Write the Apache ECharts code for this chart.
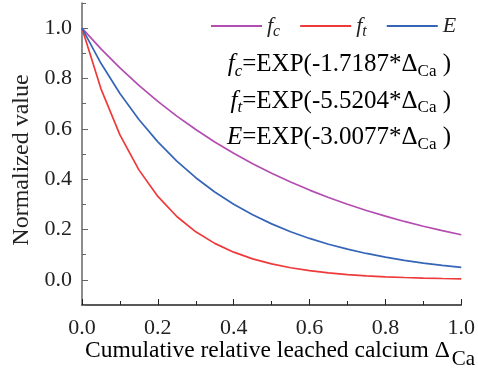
<!DOCTYPE html>
<html>
<head>
<meta charset="utf-8">
<script src="https://cdn.jsdelivr.net/npm/echarts@6/dist/echarts.min.js"></script>
<style>
  html, body { margin: 0; padding: 0; background: #fff; }
  #chart { width: 478px; height: 372px; }
</style>
</head>
<body>
<div id="chart"></div>
<script>
// Relative leached calcium (x) and the normalized mechanical properties
var leached = [0, 0.05, 0.1, 0.15, 0.2, 0.25, 0.3, 0.35, 0.4, 0.45, 0.5,
               0.55, 0.6, 0.65, 0.7, 0.75, 0.8, 0.85, 0.9, 0.95, 1.0];
// compressive strength f_c
var fcValues = [1, 0.9177, 0.8421, 0.7727, 0.7091, 0.6507, 0.5971, 0.5480, 0.5028, 0.4614, 0.4234,
                0.3886, 0.3566, 0.3272, 0.3003, 0.2755, 0.2529, 0.2320, 0.2129, 0.1954, 0.1793];
// tensile strength f_t
var ftValues = [1, 0.7588, 0.5758, 0.4369, 0.3315, 0.2516, 0.1909, 0.1448, 0.1099, 0.0834, 0.0633,
                0.0480, 0.0364, 0.0276, 0.0210, 0.0159, 0.0121, 0.0092, 0.0070, 0.0053, 0.0040];
// elastic modulus E
var eValues = [1, 0.8604, 0.7402, 0.6369, 0.5480, 0.4715, 0.4057, 0.3490, 0.3003, 0.2584, 0.2223,
               0.1912, 0.1645, 0.1416, 0.1218, 0.1048, 0.0902, 0.0776, 0.0667, 0.0574, 0.0494];

var seriesNames = ['fc', 'ft', 'E'];
var seriesColors = ['#b44db2', '#ee3a3a', '#3565b6'];
var equations = [
  '{i|f}{si|c}{n|=EXP(-1.7187*Δ}{s|Ca}{n| )}',
  '{i|f}{si|t}{n|=EXP(-5.5204*Δ}{s|Ca}{n| )}',
  '{i|E}{n|=EXP(-3.0077*Δ}{s|Ca}{n| )}'
];
var xTickLabels = ['0.0', '0.2', '0.4', '0.6', '0.8', '1.0'];
var yTickLabels = ['0.0', '0.2', '0.4', '0.6', '0.8', '1.0'];

var SERIF = 'Liberation Serif';
var INK = '#222';

function pairs(vals) {
  return leached.map(function (x, i) { return [x, vals[i]]; });
}

// rich styles for the fitted equations
var eqRich = {
  i: { fontFamily: SERIF, fontStyle: 'italic', fontSize: 25, color: INK, lineHeight: 30 },
  n: { fontFamily: SERIF, fontSize: 25, color: INK, lineHeight: 30 },
  s: { fontFamily: SERIF, fontSize: 17, color: INK, lineHeight: 16, padding: [14, 0, 0, 0] },
  si: { fontFamily: SERIF, fontStyle: 'italic', fontSize: 17, color: INK, lineHeight: 16, padding: [14, 0, 0, 0] }
};
// rich styles for the legend labels
var legendRich = {
  i: { fontFamily: SERIF, fontStyle: 'italic', fontSize: 22, color: INK, lineHeight: 26 },
  si: { fontFamily: SERIF, fontStyle: 'italic', fontSize: 16, color: INK, lineHeight: 14, padding: [12, 0, 0, 0] }
};

// plot area and y range (-0.1 .. 1.1)
var H = 372, G_TOP = 3, G_BOTTOM = 67, Y_MIN = -0.1, Y_MAX = 1.1;
var pxPerUnit = (H - G_TOP - G_BOTTOM) / (Y_MAX - Y_MIN);
// labelled sub-range 0.0 .. 1.0 placed over the same pixels
var labTop = G_TOP + (Y_MAX - 1.0) * pxPerUnit;
var labBottom = G_BOTTOM + (0.0 - Y_MIN) * pxPerUnit;

var chart = echarts.init(document.getElementById('chart'), null, { renderer: 'canvas' });

var option = {
  animation: false,
  backgroundColor: '#fff',
  grid: [
    { left: 82, right: 16, top: G_TOP, bottom: G_BOTTOM },
    { left: 82, right: 16, top: labTop, bottom: labBottom }
  ],
  legend: {
    left: 206,
    top: 7,
    itemWidth: 51,
    itemHeight: 2,
    itemGap: 20,
    icon: 'rect',
    data: seriesNames,
    formatter: function (name) {
      if (name === 'fc') return '{i|f}{si|c}';
      if (name === 'ft') return '{i|f}{si|t}';
      return '{i|E}';
    },
    textStyle: { rich: legendRich }
  },
  xAxis: [
    {
      type: 'value', gridIndex: 0,
      min: 0, max: 1.0, interval: 0.2,
      axisLine: { onZero: false, lineStyle: { color: INK, width: 1.5 } },
      axisTick: { inside: true, length: 6, lineStyle: { color: INK } },
      minorTick: { show: true, splitNumber: 2, length: 4, lineStyle: { color: INK } },
      splitLine: { show: false },
      axisLabel: {
        fontFamily: SERIF, fontSize: 22, color: INK, margin: 12,
        formatter: function (v) { return xTickLabels[Math.round(v / 0.2)]; }
      }
    },
    { type: 'value', gridIndex: 1, min: 0, max: 1, show: false }
  ],
  yAxis: [
    {
      type: 'value', gridIndex: 0, min: Y_MIN, max: Y_MAX, interval: 0.1,
      axisLine: { show: true, onZero: false, lineStyle: { color: '#666', width: 1.5 } },
      axisTick: { inside: true, length: 4, lineStyle: { color: '#666' } },
      axisLabel: { show: false }, splitLine: { show: false }
    },
    {
      type: 'value', gridIndex: 1, min: 0, max: 1.0, interval: 0.2,
      axisLine: { show: false },
      axisTick: { inside: true, length: 6, lineStyle: { color: '#666' } },
      splitLine: { show: false },
      axisLabel: {
        fontFamily: SERIF, fontSize: 22, color: INK, margin: 10,
        formatter: function (v) { return yTickLabels[Math.round(v / 0.2)]; }
      }
    }
  ],
  graphic: [],
  series: [
    { name: 'fc', type: 'line', data: pairs(fcValues), showSymbol: false,
      lineStyle: { color: seriesColors[0], width: 1.7 }, itemStyle: { color: seriesColors[0] } },
    { name: 'ft', type: 'line', data: pairs(ftValues), showSymbol: false,
      lineStyle: { color: seriesColors[1], width: 1.7 }, itemStyle: { color: seriesColors[1] } },
    { name: 'E', type: 'line', data: pairs(eValues), showSymbol: false,
      lineStyle: { color: seriesColors[2], width: 1.7 }, itemStyle: { color: seriesColors[2] } }
  ]
};

var texts = equations.map(function (t, k) {
  return {
    type: 'text', right: 27, top: 49 + k * 36.5,
    style: { text: t, rich: eqRich }
  };
});
// x axis title with a lowered, full-size "Ca"
texts.push({
  type: 'text', left: 85, top: 339,
  style: {
    text: '{n|Cumulative relative leached calcium Δ}{s|Ca}',
    rich: {
      n: { fontFamily: SERIF, fontSize: 23.5, color: INK, lineHeight: 28, verticalAlign: 'top' },
      s: { fontFamily: SERIF, fontSize: 21, color: INK, lineHeight: 28, verticalAlign: 'top', padding: [10, 0, 0, 2] }
    }
  }
});
texts.push({
  type: 'text', rotation: Math.PI / 2, x: 22, y: 160,
  style: { text: 'Normalized value', fontFamily: SERIF, fontSize: 24, fill: INK,
           align: 'center', verticalAlign: 'middle' }
});
option.graphic = texts;

chart.setOption(option);
</script>
</body>
</html>
